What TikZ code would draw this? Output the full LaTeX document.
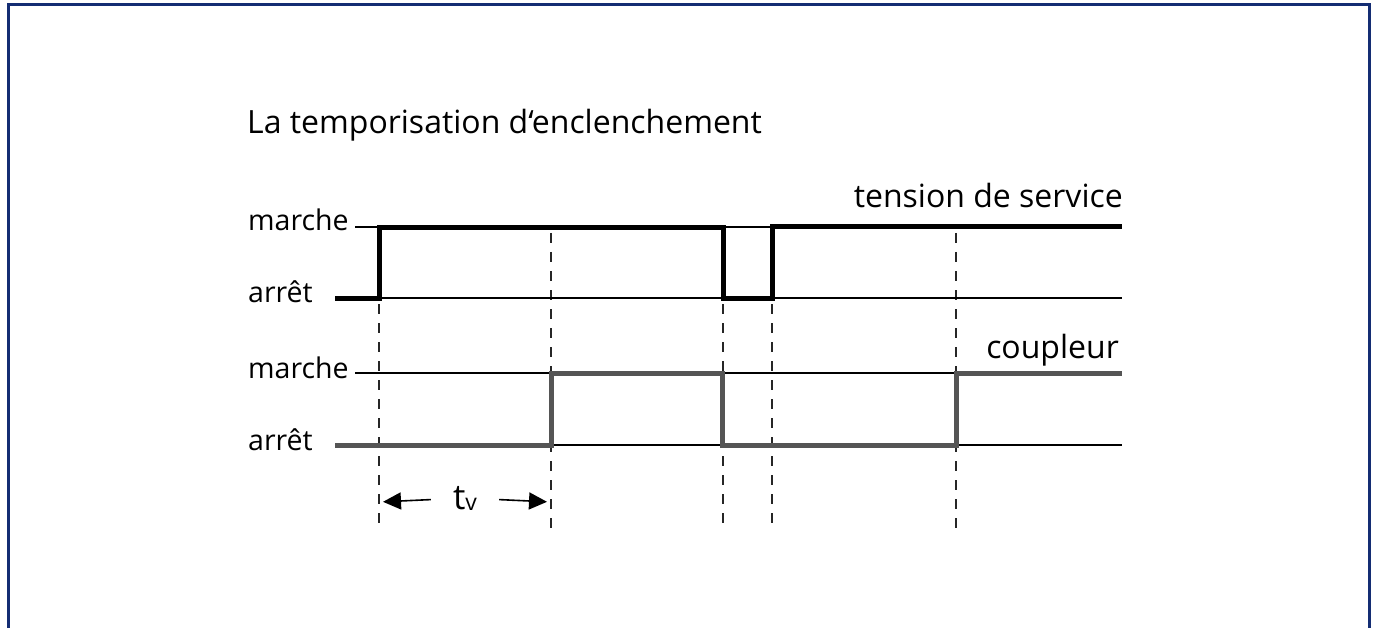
\documentclass[tikz,border=0pt]{standalone}
\usepackage{fontspec}
\setmainfont{Open Sans}
\usetikzlibrary{arrows.meta}
\definecolor{framec}{RGB}{20,45,115}
\definecolor{sigc}{RGB}{85,85,85}

\begin{document}
\begin{tikzpicture}[x=1pt, y=-1pt,
    lbl/.style = {anchor=base west, inner sep=0pt, font=\fontsize{28.5}{32}\selectfont},
    rlbl/.style = {anchor=base east, inner sep=0pt, font=\fontsize{32}{36}\selectfont},
    sig/.style = {line width=5pt, line join=miter},
    ref/.style = {line width=1.4pt},
    tick/.style = {line width=1.5pt, dash pattern=on 10pt off 9pt, black!85},
    pfeil/.style = {line width=1.6pt, -{Triangle[length=18pt, width=17pt]}, shorten >=4pt}]
    \useasboundingbox (0,0) rectangle (1375,628);
    \draw[framec, line width=3pt] (8,640) -- (8,5) -- (1369,5) -- (1369,640);

    \node[lbl, font=\fontsize{32}{36}\selectfont] (titre) at (247,134) {La temporisation d‘enclenchement};

    % tension de service
    \node[lbl] (m1) at (248,231) {marche};
    \node[lbl] (a1) at (248,302) {arrêt};
    \node[rlbl] (ts) at (1123,208) {tension de service};

    % coupleur
    \node[lbl] (m2) at (248,378) {marche};
    \node[lbl] (a2) at (248,450) {arrêt};
    \node[rlbl] (cp) at (1119,358) {coupleur};

    % traits pointilles
    \draw[tick] (379,304) -- (379,528);
    \draw[tick] (551,233) -- (551,528);
    \draw[tick] (723,304) -- (723,528);
    \draw[tick] (772,304) -- (772,530);
    \draw[tick] (956,233) -- (956,528);

    % niveaux
    \draw[ref] (355,227) -- (379,227);
    \draw[ref] (723,227) -- (772,227);
    \draw[ref] (379,298) -- (1122,298);
    \draw[ref] (355,373) -- (551,373);
    \draw[ref] (722,373) -- (956,373);
    \draw[ref] (551,445) -- (1122,445);

    % signaux
    \draw[sig] (335,298) -- (379,298) -- (379,228) -- (723,228) -- (723,298)
        -- (772,298) -- (772,227) -- (1122,227);
    \draw[sig, sigc] (335,445) -- (551,445) -- (551,373) -- (722,373) -- (722,445)
        -- (956,445) -- (956,373) -- (1122,373);

    % t_v
    \coordinate (d1) at (379,502);
    \coordinate (d2) at (551,502);
    \node[inner xsep=22pt, inner ysep=0pt] (tv) at (465,498)
        {\fontsize{35}{38}\selectfont t\raisebox{-1pt}{\fontsize{23}{26}\selectfont v}};
    \draw[pfeil] (tv) -- (d1);
    \draw[pfeil] (tv) -- (d2);
\end{tikzpicture}
\end{document}
